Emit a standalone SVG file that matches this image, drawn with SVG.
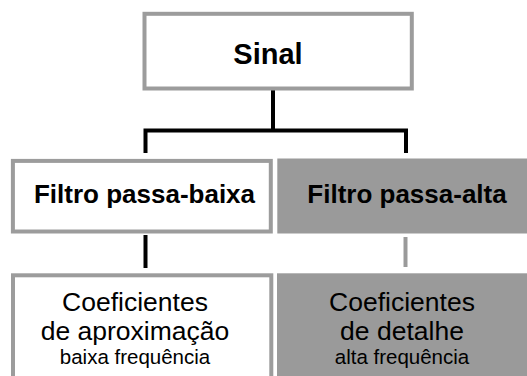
<svg xmlns="http://www.w3.org/2000/svg" width="527" height="376" viewBox="0 0 527 376">
<style>
.box{fill:#ffffff;stroke:#9c9c9c;stroke-width:4}
.gbox{fill:#9a9a9a;stroke:none}
.t{font-family:"Liberation Sans",Arial,sans-serif;fill:#000;text-anchor:middle}
.b{font-weight:bold}
.line{stroke:#000;stroke-width:4;fill:none}
.gline{stroke:#9a9a9a;stroke-width:4;fill:none}
</style>
<rect width="527" height="376" fill="#ffffff"/>
<g id="connectors">
<line class="line" x1="273" y1="90" x2="273" y2="131"/>
<polyline class="line" points="145.5,153 145.5,130.5 406,130.5 406,153"/>
<line class="line" x1="145.5" y1="235" x2="145.5" y2="268"/>
<line class="gline" x1="405.5" y1="237" x2="405.5" y2="267"/>
</g>
<g id="sinal">
<rect class="box" x="144.5" y="13.8" width="267.3" height="74.7"/>
<text class="t b" x="268" y="64" font-size="29">Sinal</text>
</g>
<g id="passa-baixa">
<rect class="box" x="12.9" y="160.9" width="257.9" height="70.6"/>
<text class="t b" x="144.5" y="203" font-size="26">Filtro passa-baixa</text>
</g>
<g id="passa-alta">
<rect class="gbox" x="277.3" y="158.5" width="249.7" height="75"/>
<text class="t b" x="407" y="203" font-size="26">Filtro passa-alta</text>
</g>
<g id="aproximacao">
<rect class="box" x="13" y="275.3" width="258.3" height="110"/>
<text class="t" x="135" y="310.5" font-size="26.5">Coeficientes</text>
<text class="t" x="135" y="339.5" font-size="26.5">de aproximação</text>
<text class="t" x="135" y="364" font-size="20.5">baixa frequência</text>
</g>
<g id="detalhe">
<rect class="gbox" x="277" y="273.3" width="250" height="110"/>
<text class="t" x="402" y="310.5" font-size="26.5">Coeficientes</text>
<text class="t" x="402" y="339.5" font-size="26.5">de detalhe</text>
<text class="t" x="402" y="364" font-size="20.5">alta frequência</text>
</g>
</svg>
